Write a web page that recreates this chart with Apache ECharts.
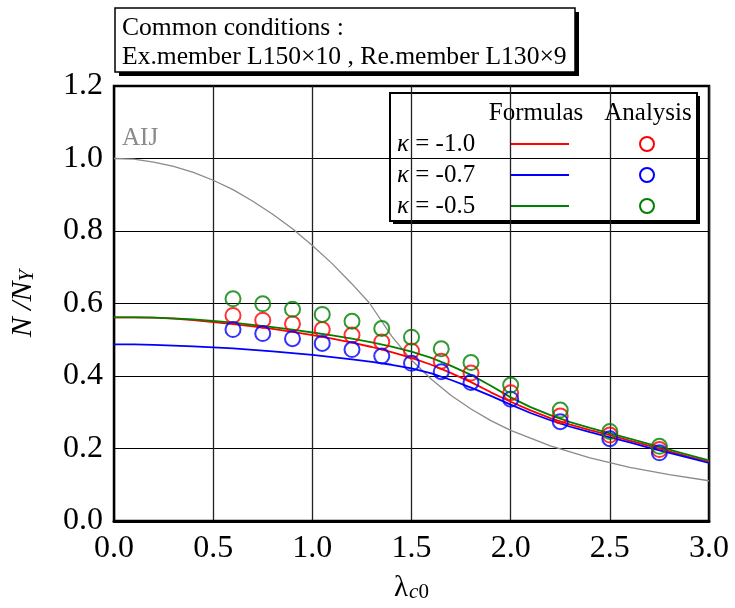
<!DOCTYPE html>
<html>
<head>
<meta charset="utf-8">
<script src="https://cdn.jsdelivr.net/npm/echarts@6/dist/echarts.min.js"></script>
<style>
  html, body { margin: 0; padding: 0; background: #fff; }
  #chart { width: 735px; height: 608px; }
</style>
</head>
<body>
<div id="chart"></div>
<script>
// Normalized slenderness of the analysed members
const lambdaAnalysis = [0.6, 0.75, 0.9, 1.05, 1.2, 1.35, 1.5, 1.65, 1.8, 2.0, 2.25, 2.5, 2.75];
// Analysis results N/Ny for each kappa
const analysisK10 = [0.567, 0.554, 0.544, 0.528, 0.513, 0.494, 0.469, 0.441, 0.408, 0.354, 0.290, 0.237, 0.197];
const analysisK07 = [0.528, 0.517, 0.503, 0.490, 0.473, 0.455, 0.435, 0.412, 0.382, 0.336, 0.274, 0.227, 0.188];
const analysisK05 = [0.613, 0.599, 0.584, 0.570, 0.551, 0.531, 0.507, 0.475, 0.437, 0.375, 0.306, 0.247, 0.206];

// Proposed formula curves, sampled every 0.1
const lambdaFormula = [0.0, 0.1, 0.2, 0.3, 0.4, 0.5, 0.6, 0.7, 0.8, 0.9, 1.0, 1.1, 1.2, 1.3, 1.4, 1.5,
                       1.6, 1.7, 1.8, 1.9, 2.0, 2.1, 2.2, 2.3, 2.4, 2.5, 2.6, 2.7, 2.8, 2.9, 3.0];
const formulaK10 = [0.562, 0.562, 0.561, 0.558, 0.554, 0.549, 0.543, 0.537, 0.530, 0.522, 0.513, 0.503, 0.492, 0.480, 0.466, 0.450,
                    0.431, 0.408, 0.383, 0.355, 0.329, 0.305, 0.284, 0.266, 0.251, 0.237, 0.222, 0.207, 0.192, 0.177, 0.163];
const formulaK07 = [0.487, 0.487, 0.486, 0.484, 0.482, 0.479, 0.476, 0.472, 0.468, 0.463, 0.458, 0.452, 0.446, 0.439, 0.431, 0.421,
                    0.407, 0.389, 0.368, 0.345, 0.321, 0.298, 0.278, 0.260, 0.245, 0.231, 0.217, 0.202, 0.188, 0.174, 0.160];
const formulaK05 = [0.562, 0.562, 0.561, 0.559, 0.556, 0.552, 0.547, 0.541, 0.535, 0.528, 0.520, 0.512, 0.503, 0.493, 0.481, 0.467,
                    0.450, 0.428, 0.403, 0.373, 0.341, 0.314, 0.292, 0.273, 0.257, 0.242, 0.227, 0.212, 0.197, 0.182, 0.167];

// AIJ column strength curve
const lambdaAIJ = [0, 0.1, 0.2, 0.3, 0.4, 0.5, 0.6, 0.7, 0.8, 0.9, 1.0, 1.1, 1.2, 1.29, 1.4, 1.5, 1.6, 1.7, 1.8, 1.9, 2.0, 2.2, 2.4, 2.6, 2.8, 3.0];
const valueAIJ = [1.000, 0.998, 0.990, 0.978, 0.962, 0.940, 0.914, 0.882, 0.846, 0.806, 0.760, 0.710, 0.654, 0.600, 0.510, 0.444, 0.391, 0.346, 0.309, 0.277, 0.250, 0.207, 0.174, 0.148, 0.128, 0.111];

// Tick labels
const xTickLabels = ['0.0', '0.5', '1.0', '1.5', '2.0', '2.5', '3.0'];
const yTickLabels = ['0.0', '0.2', '0.4', '0.6', '0.8', '1.0', '1.2'];

// Legend rows
const legendKappa = ['-1.0', '-0.7', '-0.5'];
const seriesColors = ['#ff0000', '#0000ff', '#008000'];

const SERIF = '"Liberation Serif", "Times New Roman", serif';

const pairs = (xs, ys) => xs.map((x, i) => [x, ys[i]]);

const chart = echarts.init(document.getElementById('chart'), null, { renderer: 'canvas' });

const lineSeries = (name, xs, ys, color) => ({
  name, type: 'line', data: pairs(xs, ys), showSymbol: false, smooth: false,
  lineStyle: { color, width: 1.8 }, z: 3, silent: true
});
const dotSeries = (name, xs, ys, color) => ({
  name, type: 'scatter', data: pairs(xs, ys), symbol: 'circle', symbolSize: 15,
  itemStyle: { color: 'rgba(0,0,0,0)', borderColor: color, borderWidth: 2 }, z: 4, silent: true
});

// Legend block (table layout: label | formula line | analysis circle)
const LG = { x: 390, y: 93, w: 307, h: 128 };
const legendChildren = [
  { type: 'rect', shape: { x: LG.x + 3, y: LG.y + 3, width: LG.w, height: LG.h }, style: { fill: '#000' } },
  { type: 'rect', shape: { x: LG.x, y: LG.y, width: LG.w, height: LG.h }, style: { fill: '#fff', stroke: '#000', lineWidth: 2 } },
  { type: 'text', style: { x: 536, y: 113, text: 'Formulas', font: '25px ' + SERIF, fill: '#000', textAlign: 'center', textVerticalAlign: 'middle' } },
  { type: 'text', style: { x: 648, y: 113, text: 'Analysis', font: '25px ' + SERIF, fill: '#000', textAlign: 'center', textVerticalAlign: 'middle' } }
];
legendKappa.forEach((k, i) => {
  const cy = 144 + i * 31;
  legendChildren.push(
    { type: 'text', style: { x: 397, y: cy, text: '{k|κ} = ' + k, font: '25px ' + SERIF, fill: '#000', textVerticalAlign: 'middle',
      rich: { k: { fontStyle: 'italic', fontSize: 25, fontFamily: SERIF } } } },
    { type: 'line', shape: { x1: 511, y1: cy, x2: 569, y2: cy }, style: { stroke: seriesColors[i], lineWidth: 1.8 } },
    { type: 'circle', shape: { cx: 647, cy: cy, r: 7 }, style: { fill: 'none', stroke: seriesColors[i], lineWidth: 2 } }
  );
});

const option = {
  backgroundColor: '#fff',
  animation: false,
  grid: { left: 113, right: 26, top: 86, bottom: 86, show: true, borderColor: '#000', borderWidth: 2.5, backgroundColor: 'transparent' },
  xAxis: {
    type: 'value', min: 0, max: 3, interval: 0.5,
    name: '{l|λ}{s|c}{n|0}', nameLocation: 'middle', nameGap: 52,
    nameTextStyle: {
      rich: {
        l: { fontFamily: SERIF, fontSize: 29, color: '#000', verticalAlign: 'bottom', lineHeight: 30 },
        s: { fontFamily: SERIF, fontSize: 21, fontStyle: 'italic', color: '#000', verticalAlign: 'bottom', lineHeight: 22, padding: [0, 0, 0, 1] },
        n: { fontFamily: SERIF, fontSize: 21, color: '#000', verticalAlign: 'bottom', lineHeight: 22 }
      }
    },
    axisLine: { show: true, lineStyle: { color: '#000', width: 3 } },
    axisTick: { show: false },
    axisLabel: { margin: 12, fontFamily: SERIF, fontSize: 32, color: '#000',
      formatter: v => xTickLabels[Math.round(v / 0.5)] },
    splitLine: { show: true, lineStyle: { color: '#222', width: 1.3 } }
  },
  yAxis: {
    type: 'value', min: 0, max: 1.2, interval: 0.2,
    name: '{i|N /N}{s|Y}', nameLocation: 'middle', nameGap: 76, nameRotate: 90,
    nameTextStyle: {
      rich: {
        i: { fontFamily: SERIF, fontSize: 30, fontStyle: 'italic', color: '#000', verticalAlign: 'bottom', lineHeight: 30 },
        s: { fontFamily: SERIF, fontSize: 21, fontStyle: 'italic', color: '#000', verticalAlign: 'bottom', lineHeight: 22 }
      }
    },
    axisLine: { show: true, lineStyle: { color: '#000', width: 2 } },
    axisTick: { show: false },
    axisLabel: { margin: 11, fontFamily: SERIF, fontSize: 32, color: '#000',
      formatter: v => yTickLabels[Math.round(v / 0.2)] },
    splitLine: { show: true, lineStyle: { color: '#000', width: 1 } }
  },
  series: [
    { name: 'AIJ', type: 'line', data: pairs(lambdaAIJ, valueAIJ), showSymbol: false, smooth: false,
      lineStyle: { color: '#8a8a8a', width: 1.3 }, z: 2, silent: true },
    lineSeries('κ = -1.0 formula', lambdaFormula, formulaK10, seriesColors[0]),
    lineSeries('κ = -0.7 formula', lambdaFormula, formulaK07, seriesColors[1]),
    lineSeries('κ = -0.5 formula', lambdaFormula, formulaK05, seriesColors[2]),
    dotSeries('κ = -1.0 analysis', lambdaAnalysis, analysisK10, seriesColors[0]),
    dotSeries('κ = -0.7 analysis', lambdaAnalysis, analysisK07, seriesColors[1]),
    dotSeries('κ = -0.5 analysis', lambdaAnalysis, analysisK05, seriesColors[2])
  ],
  graphic: [
    // Common-conditions box with drop shadow
    { type: 'group', z: 100, children: [
      { type: 'rect', shape: { x: 119, y: 12, width: 460, height: 64 }, style: { fill: '#000' } },
      { type: 'rect', shape: { x: 115, y: 8, width: 460, height: 64 }, style: { fill: '#fff', stroke: '#000', lineWidth: 1.5 } },
      { type: 'text', style: { x: 122, y: 28, text: 'Common conditions :', font: '25.6px ' + SERIF, fill: '#000', textVerticalAlign: 'middle' } },
      { type: 'text', style: { x: 122, y: 57, text: 'Ex.member L150×10 , Re.member L130×9', font: '25.6px ' + SERIF, fill: '#000', textVerticalAlign: 'middle' } }
    ] },
    // AIJ curve label
    { type: 'text', z: 100, style: { x: 122, y: 138, text: 'AIJ', font: '25px ' + SERIF, fill: '#8a8a8a', textVerticalAlign: 'middle' } },
    { type: 'group', z: 100, children: legendChildren }
  ]
};

chart.setOption(option);
</script>
</body>
</html>
